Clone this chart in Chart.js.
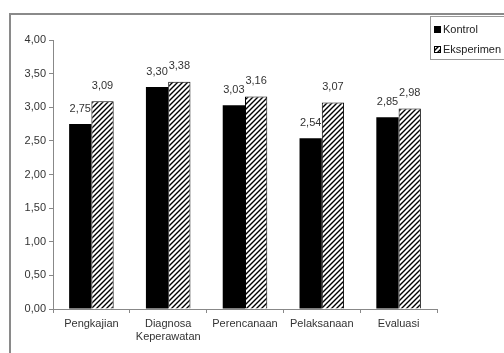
<!DOCTYPE html>
<html>
<head>
<meta charset="utf-8">
<script src="https://cdn.jsdelivr.net/npm/chart.js@4"></script>
<style>
  html, body { margin: 0; padding: 0; background: #fff; }
  canvas { display: block; }
</style>
</head>
<body>
<canvas id="nilai-chart" width="504" height="353"></canvas>
<script>
var categories = ['Pengkajian', ['Diagnosa', 'Keperawatan'], 'Perencanaan', 'Pelaksanaan', 'Evaluasi'];
var kontrolValues = [2.75, 3.30, 3.03, 2.54, 2.85];
var eksperimenValues = [3.09, 3.38, 3.16, 3.07, 2.98];
var seriesNames = ['Kontrol', 'Eksperimen'];

Chart.defaults.font.family = '"Liberation Sans", Arial, sans-serif';
Chart.defaults.font.size = 11;
Chart.defaults.color = '#333';

// pola arsir miring
function makeHatch() {
    var c = document.createElement('canvas');
    c.width = 5; c.height = 5;
    var g = c.getContext('2d');
    g.fillStyle = '#fff';
    g.fillRect(0, 0, 5, 5);
    g.strokeStyle = '#000';
    g.lineWidth = 1.4;
    g.beginPath();
    g.moveTo(-1, 6); g.lineTo(6, -1);
    g.moveTo(-1, 1); g.lineTo(1, -1);
    g.moveTo(4, 6); g.lineTo(6, 4);
    g.stroke();
    return g.createPattern(c, 'repeat');
}
var hatch = makeHatch();

function fmt(v) {
    return v.toFixed(2).replace('.', ',');
}

var framePlugin = {
    id: 'frame',
    beforeDraw: function (chart) {
        var ctx = chart.ctx;
        ctx.save();
        ctx.strokeStyle = '#8a8a8a';
        ctx.lineWidth = 2;
        ctx.beginPath();
        ctx.moveTo(10, 353);
        ctx.lineTo(10, 14);
        ctx.lineTo(504, 14);
        ctx.stroke();
        ctx.restore();
    },
    afterDraw: function (chart) {
        var ctx = chart.ctx;
        ctx.save();
        // label nilai
        ctx.font = '11px "Liberation Sans", Arial, sans-serif';
        ctx.fillStyle = '#333';
        ctx.textAlign = 'center';
        ctx.textBaseline = 'bottom';
        chart.data.datasets.forEach(function (ds, i) {
            chart.getDatasetMeta(i).data.forEach(function (bar, j) {
                ctx.fillText(fmt(ds.data[j]), bar.x, bar.y - 10);
            });
        });
        // legenda
        ctx.fillStyle = '#fff';
        ctx.fillRect(430, 16, 80, 43);
        ctx.strokeStyle = '#999';
        ctx.lineWidth = 1;
        ctx.strokeRect(430.5, 16.5, 80, 43);
        ctx.fillStyle = '#000';
        ctx.fillRect(434, 26, 7, 7);
        ctx.fillStyle = hatch;
        ctx.fillRect(434, 46, 7, 7);
        ctx.strokeStyle = '#000';
        ctx.strokeRect(434.5, 46.5, 6, 6);
        ctx.fillStyle = '#222';
        ctx.textAlign = 'left';
        ctx.textBaseline = 'middle';
        ctx.fillText(seriesNames[0], 443, 30);
        ctx.fillText(seriesNames[1], 443, 50);
        ctx.restore();
    }
};

new Chart(document.getElementById('nilai-chart'), {
    type: 'bar',
    data: {
        labels: categories,
        datasets: [
            {
                label: seriesNames[0],
                data: kontrolValues,
                backgroundColor: '#000',
                borderColor: '#000',
                borderWidth: 0,
                categoryPercentage: 0.58,
                barPercentage: 1
            },
            {
                label: seriesNames[1],
                data: eksperimenValues,
                backgroundColor: hatch,
                borderColor: '#000',
                borderWidth: 1,
                categoryPercentage: 0.58,
                barPercentage: 1
            }
        ]
    },
    options: {
        responsive: false,
        animation: false,
        layout: { padding: { left: 10, top: 40, right: 67, bottom: 0 } },
        plugins: {
            legend: { display: false },
            tooltip: { enabled: false }
        },
        scales: {
            x: {
                offset: true,
                grid: { display: true, drawOnChartArea: false, offset: true, tickLength: 4, color: '#888' },
                border: { color: '#888' },
                ticks: { color: '#333', padding: 4 },
                afterFit: function (s) { s.height = 44; }
            },
            y: {
                min: 0,
                max: 4,
                grid: { display: true, drawOnChartArea: false, tickLength: 4, color: '#888' },
                border: { color: '#888' },
                ticks: {
                    stepSize: 0.5,
                    padding: 3,
                    color: '#333',
                    callback: function (v) { return fmt(v); }
                },
                afterFit: function (s) { s.width = 43; }
            }
        }
    },
    plugins: [framePlugin]
});
</script>
</body>
</html>
